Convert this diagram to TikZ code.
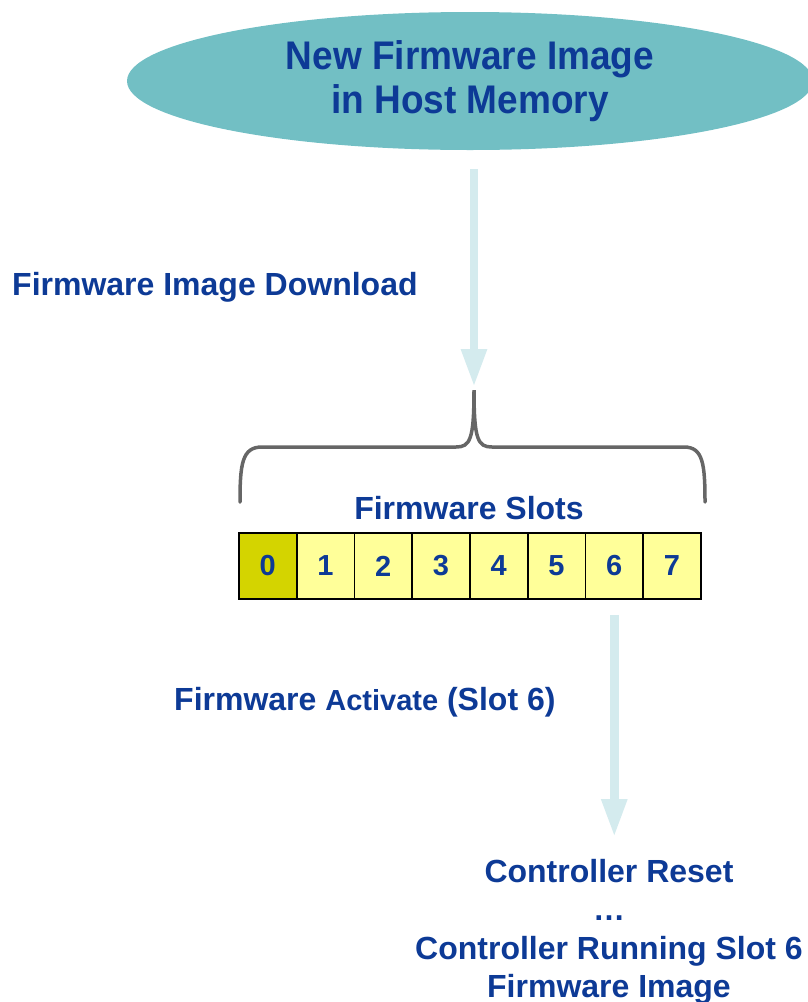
\documentclass[tikz,border=0pt]{standalone}
\usepackage{fontspec}
\setmainfont{Liberation Sans}
\usetikzlibrary{arrows.meta,shapes.geometric}
\definecolor{tblue}{HTML}{0D3A96}
\definecolor{ellfill}{HTML}{72BFC4}
\definecolor{arrowc}{HTML}{D4EBEE}
\definecolor{slotdark}{HTML}{D4D400}
\definecolor{slotlight}{HTML}{FFFF99}
\definecolor{bracec}{HTML}{666666}
\begin{document}
\begin{tikzpicture}[x=1pt,y=-1pt,
  lbl/.style={text=tblue,font=\bfseries\fontsize{32}{38.5}\selectfont,inner sep=0pt},
  slotbox/.style={draw=black,line width=1.8pt,minimum width=57.75pt,minimum height=66pt,inner sep=0pt,anchor=north west,fill=slotlight,text=tblue,font=\bfseries\fontsize{29}{32}\selectfont},
  flow/.style={draw=arrowc,line width=8.5pt,-{Triangle[width=24pt,length=38pt]}},
  bracestyle/.style={draw=bracec,line width=3.5pt,line cap=round}]
\useasboundingbox (0,0) rectangle (808,1002);
\clip (0,0) rectangle (808,1002);
% ellipse
\node[ellipse,fill=ellfill,minimum width=686pt,minimum height=138pt,inner sep=0pt,
      text=tblue,align=center,font=\bfseries\fontsize{37}{44}\selectfont] (host) at (470,81)
      {\scalebox{1}[1.08]{New Firmware Image}\\\scalebox{1}[1.08]{in Host Memory}};
% download label
\node[lbl,anchor=west] (dl) at (12,287) {Firmware Image Download};
% brace
\coordinate (tip) at (474,390);
\draw[bracestyle] (240,502) .. controls (240,464) and (242,447) .. (262,447) -- (456,447)
  .. controls (470,447) and (474,440) .. (tip)
  .. controls (474,440) and (478,447) .. (492,447) -- (684,447)
  .. controls (703,447) and (705,464) .. (705,502);
% arrow 1
\draw[flow,shorten <=19pt,shorten >=3pt] (host.south -| tip) -- (tip);
% slots title
\node[lbl] (slots) at (469,508) {Firmware Slots};
% slots
\foreach \i in {0,...,7} {
  \node[slotbox] (s\i) at (238+\i*57.75,532) {\i};
}
\node[slotbox,fill=slotdark] at (s0.north west) {0};
% activate label
\node[lbl,anchor=west] (act) at (174,702) {Firmware {\fontsize{29}{32}\selectfont Activate} (Slot 6)};
% result text
\node[lbl,align=center] (res) at (609,932) {Controller Reset\\\ldots\\Controller Running Slot 6\\Firmware Image};
% arrow 2
\draw[flow,shorten <=15pt,shorten >=22pt] (s6.south) -- (s6.south |- res.north);
\end{tikzpicture}
\end{document}
